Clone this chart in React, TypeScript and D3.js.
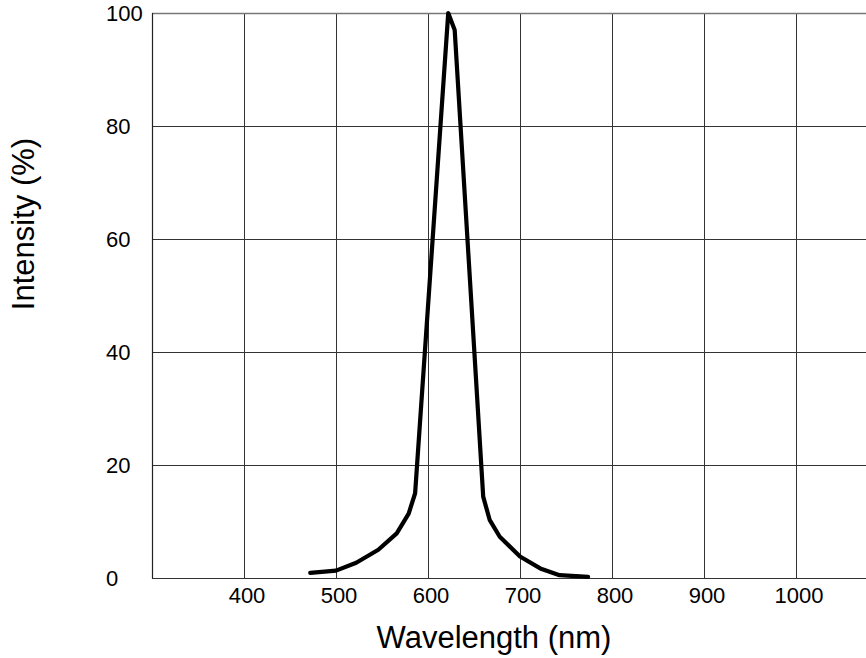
import React, { useEffect, useRef } from "react";
import * as d3 from "d3";

// spectrum (wavelength nm, relative intensity %)
const wavelengths = [472, 500, 522, 546, 566, 579, 586, 622, 629, 660, 667, 678, 700, 722, 743, 774];
const intensity = [0.9, 1.3, 2.7, 5.0, 7.9, 11.4, 15, 100, 97, 14.4, 10.3, 7.3, 3.8, 1.7, 0.5, 0.2];

const xTicks = [400, 500, 600, 700, 800, 900, 1000];
const xGrid = [400, 500, 600, 700, 800, 900, 1000, 1100];
const yTicks = [0, 20, 40, 60, 80, 100];

const W = 866;
const H = 658;
const FONT = "'Liberation Sans', Arial, sans-serif";

const SpectrumChart = () => {
  const svgRef = useRef<SVGSVGElement>(null);

  useEffect(() => {
    const svg = d3.select(svgRef.current);
    svg.selectAll("*").remove();

    const x = d3.scaleLinear().domain([300, 1100]).range([152, 888]);
    const y = d3.scaleLinear().domain([0, 100]).range([578, 13]);

    const g = svg.append("g");

    // grid
    g.append("g")
      .selectAll("line")
      .data(xGrid)
      .enter()
      .append("line")
      .attr("x1", (d) => Math.round(x(d)) + 0.5)
      .attr("x2", (d) => Math.round(x(d)) + 0.5)
      .attr("y1", y(100))
      .attr("y2", y(0))
      .attr("stroke", "#333")
      .attr("stroke-width", 1);

    g.append("g")
      .selectAll("line")
      .data(yTicks)
      .enter()
      .append("line")
      .attr("x1", x(300))
      .attr("x2", x(1100))
      .attr("y1", (d) => Math.round(y(d)) + 0.5)
      .attr("y2", (d) => Math.round(y(d)) + 0.5)
      .attr("stroke", (d) => (d === 100 ? "#777" : "#333"))
      .attr("stroke-width", (d) => (d === 100 ? 1.6 : 1));

    // left border
    g.append("line")
      .attr("x1", Math.round(x(300)) + 0.5)
      .attr("x2", Math.round(x(300)) + 0.5)
      .attr("y1", y(100))
      .attr("y2", y(0) + 0.5)
      .attr("stroke", "#222")
      .attr("stroke-width", 1.2);

    // tick labels
    g.append("g")
      .selectAll("text")
      .data(xTicks)
      .enter()
      .append("text")
      .attr("x", (d) => x(d) + 3)
      .attr("y", 603)
      .attr("text-anchor", "middle")
      .attr("font-family", FONT)
      .attr("font-size", 22)
      .attr("fill", "#000")
      .text((d) => d);

    g.append("g")
      .selectAll("text")
      .data(yTicks)
      .enter()
      .append("text")
      .attr("x", 106)
      .attr("y", (d) => y(d))
      .attr("dy", "0.36em")
      .attr("font-family", FONT)
      .attr("font-size", 22)
      .attr("fill", "#000")
      .text((d) => d);

    // axis titles
    svg
      .append("text")
      .attr("x", 494)
      .attr("y", 648)
      .attr("text-anchor", "middle")
      .attr("font-family", FONT)
      .attr("font-size", 31)
      .attr("fill", "#000")
      .text("Wavelength (nm)");

    svg
      .append("text")
      .attr("transform", "translate(34,224) rotate(-90)")
      .attr("text-anchor", "middle")
      .attr("font-family", FONT)
      .attr("font-size", 31)
      .attr("fill", "#000")
      .text("Intensity (%)");

    // curve
    const pts = wavelengths.map((w, i) => [w, intensity[i]] as [number, number]);
    const line = d3
      .line<[number, number]>()
      .x((d) => x(d[0]))
      .y((d) => y(d[1]));

    g.append("path")
      .datum(pts)
      .attr("d", line)
      .attr("fill", "none")
      .attr("stroke", "#000")
      .attr("stroke-width", 4.2)
      .attr("stroke-linejoin", "round")
      .attr("stroke-linecap", "round");
  }, []);

  return (
    <svg
      ref={svgRef}
      width={W}
      height={H}
      style={{ position: "absolute", left: 0, top: 0, background: "#fff" }}
    />
  );
};

export default function App() {
  return <SpectrumChart />;
}
